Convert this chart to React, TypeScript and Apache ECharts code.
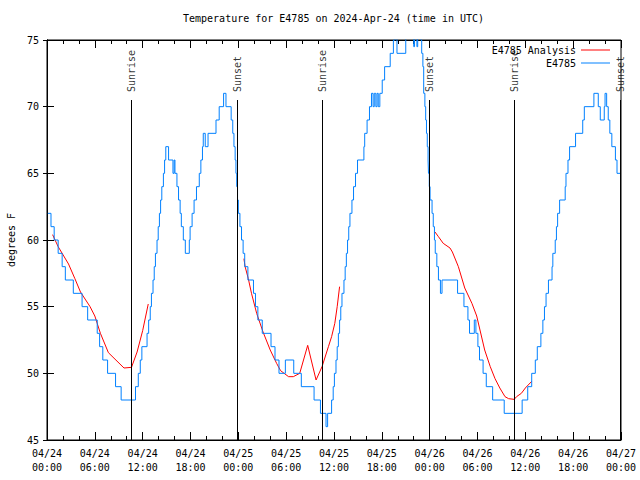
import React, { useEffect, useRef } from "react";
import * as echarts from "echarts";

// Hours since 2024-04-24 00:00 UTC
const xTickLabels = [
  "04/24\n00:00", "04/24\n06:00", "04/24\n12:00", "04/24\n18:00",
  "04/25\n00:00", "04/25\n06:00", "04/25\n12:00", "04/25\n18:00",
  "04/26\n00:00", "04/26\n06:00", "04/26\n12:00", "04/26\n18:00",
  "04/27\n00:00",
];

// Observed station temperature (change points: [hour, degF])
const observed: [number, number][] = [
  [0.1, 62], [0.5, 61], [0.9, 60], [1.4, 59], [1.9, 58], [2.3, 57], [3.3, 56], [4.4, 55], [5.1, 54],
  [6.3, 53], [6.6, 52], [7.0, 51], [7.6, 50], [8.6, 49], [9.3, 48], [11.1, 49], [11.45, 50], [11.7, 51],
  [11.9, 52], [12.55, 53], [12.75, 54], [12.95, 55], [13.1, 56], [13.3, 57], [13.45, 58], [13.6, 59],
  [13.8, 60], [13.95, 61], [14.1, 62], [14.25, 63], [14.4, 64], [14.6, 65], [14.75, 66], [14.9, 67],
  [15.25, 66], [15.8, 65], [15.95, 66], [16.05, 65], [16.3, 64], [16.5, 63], [16.7, 62], [16.85, 61],
  [17.1, 60], [17.35, 59], [17.85, 60], [17.95, 61], [18.2, 62], [18.45, 63], [18.75, 64], [19.1, 65],
  [19.3, 66], [19.5, 67], [19.6, 68], [19.85, 67], [20.2, 68], [21.2, 69], [21.6, 70], [22.15, 71],
  [22.45, 70], [23.1, 69], [23.3, 68], [23.45, 67], [23.6, 66], [23.7, 65], [23.8, 64], [23.9, 63],
  [24.0, 62], [24.2, 61], [24.4, 60], [24.6, 59], [24.8, 58], [25.2, 57], [25.9, 56], [26.15, 55],
  [26.45, 54], [27.0, 53], [28.1, 52], [28.6, 51], [29.1, 50], [29.9, 51], [30.95, 50], [31.9, 49],
  [33.5, 48], [34.3, 47], [35.0, 46], [35.2, 47], [35.7, 48], [35.9, 49], [36.05, 50], [36.25, 51],
  [36.4, 52], [36.55, 53], [36.7, 54], [36.85, 55], [37.0, 56], [37.25, 57], [37.4, 58], [37.55, 59],
  [37.7, 60], [37.85, 61], [38.0, 62], [38.25, 63], [38.45, 64], [38.7, 65], [38.95, 66], [39.75, 67],
  [39.85, 68], [40.15, 69], [40.45, 70], [40.7, 71], [40.9, 70], [41.05, 71], [41.25, 70], [41.4, 71],
  [41.55, 70], [41.75, 71], [42.05, 72], [42.35, 73], [43.05, 74], [43.45, 75], [43.65, 76], [43.9, 74],
  [45.0, 76], [46.0, 74.5], [46.1, 76], [46.4, 74.5], [46.5, 76], [46.9, 75], [47.0, 74], [47.15, 73],
  [47.25, 71], [47.4, 70], [47.5, 69], [47.6, 68], [47.7, 67], [47.8, 66], [47.85, 65], [47.95, 64],
  [48.05, 63], [48.3, 62], [48.45, 61], [48.6, 60], [48.7, 59], [48.9, 58], [49.1, 57], [49.35, 56],
  [49.55, 57], [51.5, 56], [52.3, 55], [52.8, 54], [53.0, 53], [53.6, 54], [53.8, 53], [54.05, 52],
  [54.25, 51], [54.7, 50], [55.1, 49], [55.9, 48], [57.35, 47], [59.6, 48], [60.3, 49], [60.8, 50],
  [61.25, 51], [61.5, 52], [61.95, 53], [62.2, 54], [62.4, 55], [62.6, 56], [62.9, 57], [63.35, 58],
  [63.45, 59], [63.75, 60], [63.9, 61], [64.05, 62], [64.3, 63], [65.0, 64], [65.1, 65], [65.35, 66],
  [65.55, 67], [66.3, 68], [67.2, 69], [67.4, 70], [68.6, 71], [69.15, 70], [69.4, 69], [69.9, 70],
  [70.0, 71], [70.2, 70], [70.4, 69], [70.6, 68], [70.85, 67], [71.3, 66], [71.5, 65], [71.9, 65],
];

// Analysis (three night-time segments)
const analysisNight1: [number, number][] = [
  [0.7, 60.4], [1.4, 59.5], [2.7, 58.2], [3.5, 57.1], [4.2, 56.1], [5.4, 55.0], [6.0, 54.3],
  [6.7, 53.0], [7.7, 51.55], [9.66, 50.4], [10.6, 50.45], [11.3, 51.6], [12.0, 53.2], [12.7, 55.2],
];
const analysisNight2: [number, number][] = [
  [24.7, 58.6], [24.85, 58.0], [25.25, 57.1], [25.65, 56.0], [26.3, 54.5], [27.1, 53.1], [28.0, 51.75],
  [28.8, 50.75], [29.3, 50.2], [30.3, 49.75], [30.9, 49.75], [31.7, 50.0], [32.7, 52.1], [33.75, 49.5],
  [34.5, 50.5], [35.3, 52.0], [35.7, 52.75], [36.1, 53.75], [36.4, 55.0], [36.7, 56.5],
];
const analysisNight3: [number, number][] = [
  [48.67, 60.6], [49.1, 60.25], [49.7, 59.75], [50.55, 59.4], [50.85, 59.1], [51.6, 58.0], [52.4, 56.4],
  [53.3, 55.25], [53.9, 54.3], [54.9, 51.75], [55.6, 50.5], [56.2, 49.6], [56.8, 48.9], [57.45, 48.25],
  [57.9, 48.1], [58.6, 48.05], [58.9, 48.25], [59.5, 48.5], [60.0, 48.9], [60.8, 49.4],
];

const sunNames = ["Sunrise", "Sunset", "Sunrise", "Sunset", "Sunrise", "Sunset"];
const sunHours = [10.6, 23.87, 34.55, 47.96, 58.62, 71.95];
const sunLineTop = 70.5;
const sunLabelAt = 71.1;

const FONT = "'DejaVu Sans Mono', 'Liberation Mono', monospace";
const RED = "#ff0000";
const BLUE = "#0080ff";

export default function App() {
  const ref = useRef<HTMLDivElement>(null);
  useEffect(() => {
    if (!ref.current) return;
    const chart = echarts.init(ref.current, null, { renderer: "svg" });
    const analysisData: any[] = [
      ...analysisNight1,
      "-",
      ...analysisNight2,
      "-",
      ...analysisNight3,
    ];

    const xBase = {
      type: "value" as const,
      min: 0,
      max: 72,
      interval: 6,
      splitLine: { show: false },
      axisLine: { show: true, lineStyle: { color: "#000", width: 1 } },
      axisTick: { show: true, inside: true, length: 8, lineStyle: { color: "#000" } },
      minorTick: { show: true, splitNumber: 3, length: 4, lineStyle: { color: "#000" } },
    };
    const yBase = {
      type: "value" as const,
      min: 45,
      max: 75,
      interval: 5,
      splitLine: { show: false },
      axisLine: { show: true, lineStyle: { color: "#000", width: 1 } },
    };

    chart.setOption({
      animation: false,
      backgroundColor: "#fff",
      textStyle: { fontFamily: FONT },
      title: {
        text: "Temperature for E4785 on 2024-Apr-24 (time in UTC)",
        left: 183,
        top: 13,
        padding: 0,
        textStyle: { fontFamily: FONT, fontSize: 10, fontWeight: "normal", color: "#000" },
      },
      legend: {
        orient: "vertical",
        align: "right",
        right: 30,
        top: 44,
        padding: 0,
        icon: "rect",
        itemWidth: 29,
        itemHeight: 1,
        itemGap: 1,
        data: ["E4785 Analysis", "E4785"],
        textStyle: { fontFamily: FONT, fontSize: 10, color: "#000", lineHeight: 12 },
      },
      grid: {
        left: 47,
        right: 19,
        top: 40,
        bottom: 40,
        containLabel: false,
        outerBoundsMode: "none",
        show: true,
        borderColor: "#000",
        borderWidth: 1,
        backgroundColor: "transparent",
      },
      xAxis: [
        {
          ...xBase,
          position: "bottom",
          axisLabel: {
            show: true,
            margin: 6,
            fontFamily: FONT,
            fontSize: 10,
            lineHeight: 14,
            color: "#000",
            formatter: (v: number) => xTickLabels[Math.round(v / 6)] ?? "",
          },
        },
        {
          ...xBase,
          position: "top",
          axisLabel: { show: false },
        },
      ],
      yAxis: [
        {
          ...yBase,
          position: "left",
          name: "degrees F",
          nameLocation: "middle",
          nameRotate: 90,
          nameGap: 31,
          nameTextStyle: { fontFamily: FONT, fontSize: 10, color: "#000" },
          axisTick: { show: true, inside: true, length: 7, lineStyle: { color: "#000" } },
          axisLabel: { show: true, margin: 8, fontFamily: FONT, fontSize: 10, color: "#000" },
        },
        {
          ...yBase,
          position: "right",
          axisTick: { show: true, inside: true, length: 4, lineStyle: { color: "#000" } },
          axisLabel: { show: false },
        },
      ],
      series: [
        {
          name: "E4785 Analysis",
          type: "line",
          xAxisIndex: 0,
          yAxisIndex: 0,
          data: analysisData,
          symbol: "none",
          showSymbol: false,
          connectNulls: false,
          lineStyle: { color: RED, width: 1 },
          itemStyle: { color: RED },
          silent: true,
        },
        {
          name: "E4785",
          type: "line",
          xAxisIndex: 0,
          yAxisIndex: 0,
          data: observed,
          step: "end",
          symbol: "none",
          showSymbol: false,
          clip: true,
          lineStyle: { color: BLUE, width: 1 },
          itemStyle: { color: BLUE },
          silent: true,
        },
        {
          name: "sun",
          type: "scatter",
          xAxisIndex: 0,
          yAxisIndex: 0,
          symbolSize: 0,
          silent: true,
          clip: false,
          data: sunHours.map((t, i) => ({ value: [t, sunLabelAt], name: sunNames[i] })),
          label: {
            show: true,
            position: "inside",
            rotate: 90,
            align: "left",
            verticalAlign: "middle",
            formatter: (p: any) => p.name,
            fontFamily: FONT,
            fontSize: 10,
            color: "#000",
          },
          markLine: {
            silent: true,
            symbol: ["none", "none"],
            label: { show: false },
            lineStyle: { color: "#000", width: 1, type: "solid" },
            data: sunHours.map((t) => [
              { coord: [t, sunLineTop] },
              { coord: [t, 45] },
            ]),
          },
        },
      ],
    });
    return () => chart.dispose();
  }, []);
  return (
    <div
      ref={ref}
      style={{ position: "fixed", left: 0, top: 0, width: 640, height: 480 }}
    />
  );
}
